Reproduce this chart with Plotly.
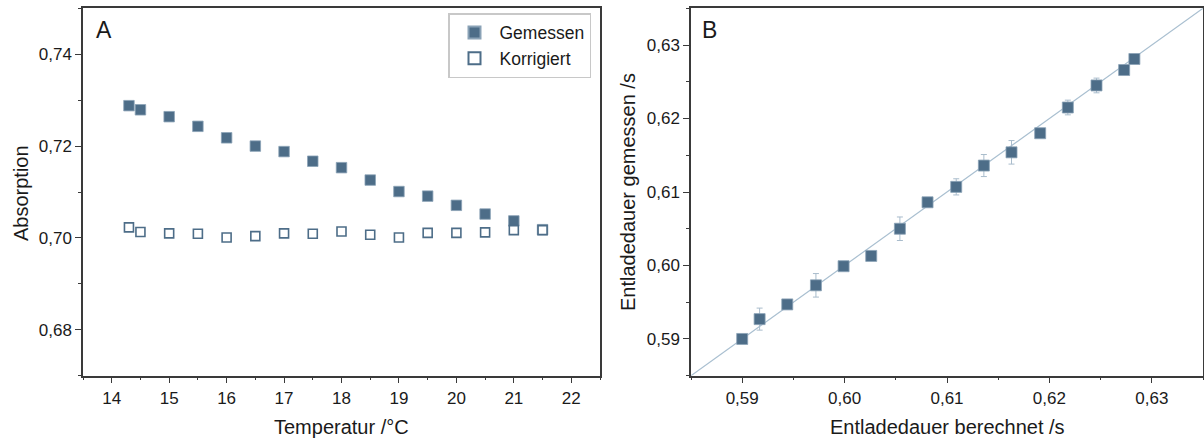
import plotly.graph_objects as go

# ---------------- data ----------------
# Panel A
temp = [14.3, 14.5, 15.0, 15.5, 16.0, 16.5, 17.0, 17.5, 18.0, 18.5, 19.0, 19.5, 20.0, 20.5, 21.0, 21.5]
abs_gemessen = [0.7288, 0.7279, 0.7264, 0.7243, 0.7218, 0.7200, 0.7188, 0.7167, 0.7153, 0.7126,
                0.7101, 0.7091, 0.7071, 0.7052, 0.7037, 0.7018]
abs_korrigiert = [0.7023, 0.7013, 0.7010, 0.7009, 0.7001, 0.7004, 0.7010, 0.7009, 0.7014, 0.7007,
                  0.7001, 0.7011, 0.7011, 0.7012, 0.7017, 0.7017]
abs_korr_err = [0.0004, 0.0003, 0.0002, 0.0002, 0.0002, 0.0004, 0.0002, 0.0002, 0.0002, 0.0002,
                0.0002, 0.0002, 0.0002, 0.0002, 0.0004, 0.0004]

# Panel B
t_berechnet = [0.5900, 0.5917, 0.5944, 0.5972, 0.5999, 0.6026, 0.6054, 0.6081, 0.6109, 0.6136,
               0.6163, 0.6191, 0.6218, 0.6246, 0.6273, 0.6283]
t_gemessen = [0.5900, 0.5927, 0.5947, 0.5973, 0.5999, 0.6013, 0.6050, 0.6086, 0.6107, 0.6136,
              0.6154, 0.6180, 0.6215, 0.6245, 0.6266, 0.6281]
t_err = [0.0005, 0.0015, 0.0005, 0.0016, 0.0005, 0.0005, 0.0016, 0.0005, 0.0011, 0.0015,
         0.0016, 0.0005, 0.0010, 0.0010, 0.0005, 0.0005]

xrange_a = [13.5, 22.5]
yrange_a = [0.67, 0.75]
range_b = [0.585, 0.635]

# ---------------- style ----------------
W, H = 1204, 438
FONT = "Arial, Liberation Sans, sans-serif"
MARK = "#4d6d88"
ERRC = "#a9bccc"
AXC = "#3a3a3a"
TXT = "#1a1a1a"

def px_x(p):
    return p / W

def px_y(p):
    return 1 - p / H

dom_y = [px_y(375.7), px_y(8.3)]
dom_xa = [px_x(83), px_x(600)]
dom_xb = [px_x(691), px_x(1203)]

fig = go.Figure()

fig.add_trace(go.Scatter(
    x=temp, y=abs_gemessen, mode="markers", name="Gemessen",
    marker=dict(symbol="square", size=10.5, color=MARK, line=dict(width=0.8, color="#8aa2b6")),
    xaxis="x", yaxis="y", cliponaxis=False))

fig.add_trace(go.Scatter(
    x=temp, y=abs_korrigiert, mode="markers", name="Korrigiert",
    marker=dict(symbol="square", size=9, color="white", line=dict(width=1.6, color=MARK)),
    error_y=dict(type="data", array=abs_korr_err, color=ERRC, thickness=1, width=3),
    xaxis="x", yaxis="y", cliponaxis=False))

fig.add_trace(go.Scatter(
    x=range_b, y=range_b, mode="lines", showlegend=False,
    line=dict(color="#a9bfd0", width=1.2),
    xaxis="x2", yaxis="y2"))

fig.add_trace(go.Scatter(
    x=t_berechnet, y=t_gemessen, mode="markers", showlegend=False,
    marker=dict(symbol="square", size=11, color=MARK, line=dict(width=0.8, color="#8aa2b6")),
    error_y=dict(type="data", array=t_err, color=ERRC, thickness=1, width=3),
    xaxis="x2", yaxis="y2", cliponaxis=False))

axis_common = dict(
    showline=True, linecolor=AXC, linewidth=1.5, mirror=True,
    ticks="outside", ticklen=6, tickwidth=1.3, tickcolor=AXC,
    showgrid=False, zeroline=False,
    tickfont=dict(family=FONT, size=17, color=TXT),
)

fig.update_layout(
    width=W, height=H,
    margin=dict(l=0, r=0, t=0, b=0),
    paper_bgcolor="white", plot_bgcolor="white",
    separators=",.",
    font=dict(family=FONT, color=TXT),
    xaxis=dict(domain=dom_xa, range=xrange_a, anchor="y", tick0=14, dtick=1,
               minor=dict(ticks="outside", ticklen=3, dtick=0.5, tickcolor=AXC, tickwidth=1.3),
               **axis_common),
    yaxis=dict(domain=dom_y, range=yrange_a, anchor="x", tick0=0.68, dtick=0.02, tickformat=".2f",
               minor=dict(ticks="outside", ticklen=3, dtick=0.01, tickcolor=AXC, tickwidth=1.3),
               **axis_common),
    xaxis2=dict(domain=dom_xb, range=range_b, anchor="y2", tick0=0.59, dtick=0.01, tickformat=".2f",
                minor=dict(ticks="outside", ticklen=3, dtick=0.005, tickcolor=AXC, tickwidth=1.3),
                **axis_common),
    yaxis2=dict(domain=dom_y, range=range_b, anchor="x2", tick0=0.59, dtick=0.01, tickformat=".2f",
                minor=dict(ticks="outside", ticklen=3, dtick=0.005, tickcolor=AXC, tickwidth=1.3),
                **axis_common),
    legend=dict(x=px_x(448), y=px_y(13), xanchor="left", yanchor="top",
                bgcolor="white", bordercolor="#c8c8c8", borderwidth=1.5,
                font=dict(family=FONT, size=17.5, color=TXT),
                itemsizing="constant", itemwidth=40, tracegroupgap=0),
    showlegend=True,
)

ann = [
    dict(text="A", x=px_x(94), y=px_y(30), xanchor="left", yanchor="middle", font=dict(size=23)),
    dict(text="B", x=px_x(700), y=px_y(30), xanchor="left", yanchor="middle", font=dict(size=23)),
    dict(text="Absorption", x=px_x(21), y=px_y(193), textangle=-90, xanchor="center", yanchor="middle",
         font=dict(size=20)),
    dict(text="Temperatur /°C", x=px_x(342), y=px_y(427), xanchor="center", yanchor="middle",
         font=dict(size=20)),
    dict(text="Entladedauer gemessen /s", x=px_x(628), y=px_y(192), textangle=-90, xanchor="center",
         yanchor="middle", font=dict(size=20)),
    dict(text="Entladedauer berechnet /s", x=px_x(947), y=px_y(427), xanchor="center", yanchor="middle",
         font=dict(size=20)),
]
for a in ann:
    a.update(xref="paper", yref="paper", showarrow=False)
    a["font"] = dict(family=FONT, color=TXT, **a["font"])
fig.update_layout(annotations=ann)

fig.write_html("out.html")
